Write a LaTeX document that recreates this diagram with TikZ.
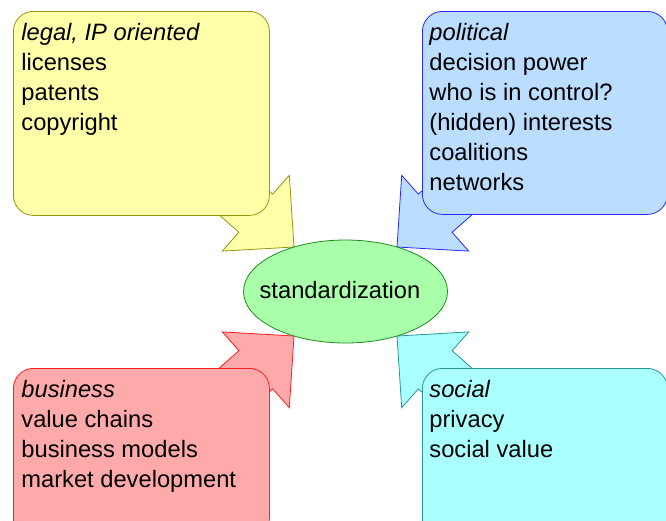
\documentclass[tikz,border=0pt]{standalone}
\usepackage{fontspec}
\setmainfont{Liberation Sans}
\usetikzlibrary{shapes.geometric}
\definecolor{yf}{RGB}{255,255,170}
\definecolor{yb}{RGB}{150,150,20}
\definecolor{bf}{RGB}{187,221,255}
\definecolor{bb}{RGB}{40,40,255}
\definecolor{rf}{RGB}{255,170,170}
\definecolor{rb}{RGB}{255,30,30}
\definecolor{cf}{RGB}{170,255,255}
\definecolor{cb}{RGB}{40,150,150}
\definecolor{gf}{RGB}{170,255,170}
\definecolor{gb}{RGB}{30,140,30}
\tikzset{
  barrow/.pic={
    \draw[pic actions] (-51.5,-44.5) -- (-123.2,-40.4) -- (-106.6,-59.2) -- (-166.5,-112.2)
      -- (-132.7,-150.4) -- (-72.8,-97.4) -- (-56.2,-116.2) -- cycle;
  }
}
\begin{document}
\begin{tikzpicture}[x=1pt,y=-1pt,
  line width=0.8pt,
  box/.style={draw, rounded corners=20pt, anchor=north west, inner sep=0pt},
  lbl/.style={anchor=base west, inner sep=0pt, align=left, font=\fontsize{23.7}{29.9}\selectfont}]
\useasboundingbox (0,0) rectangle (666,520);
\clip (0,0) rectangle (666,520);
\coordinate (c) at (345.5,291.5);
% block arrows
\pic[draw=yb, fill=yf] at (c) {barrow};
\pic[draw=bb, fill=bf, xscale=-1] at (c) {barrow};
\pic[draw=rb, fill=rf, yscale=-1] at (c) {barrow};
\pic[draw=cb, fill=cf, xscale=-1, yscale=-1] at (c) {barrow};
% boxes
\node[box, fill=yf, draw=yb, minimum width=256pt, minimum height=204pt] (legal) at (13,11) {};
\node[box, fill=bf, draw=bb, minimum width=245pt, minimum height=203pt] (pol) at (422,11) {};
\node[box, fill=rf, draw=rb, minimum width=256pt, minimum height=170pt] (bus) at (13,368) {};
\node[box, fill=cf, draw=cb, minimum width=245pt, minimum height=170pt] (soc) at (422,368) {};
% texts (anchor = baseline of last line)
\node[lbl] (legalt) at (21,130.2) {\textit{legal, IP oriented}\\licenses\\patents\\copyright};
\node[lbl] (polt) at (429,190) {\textit{political}\\decision power\\who is in control?\\(hidden) interests\\coalitions\\networks};
\node[lbl] (bust) at (21,487.2) {\textit{business}\\value chains\\business models\\market development};
\node[lbl] (soct) at (429,457.3) {\textit{social}\\privacy\\social value};
% centre
\node[ellipse, draw=gb, fill=gf, minimum width=204pt, minimum height=103pt, inner sep=0pt] (std) at (c) {};
\node[lbl, anchor=base] (stdt) at (340,298.5) {standardization};
\end{tikzpicture}
\end{document}
